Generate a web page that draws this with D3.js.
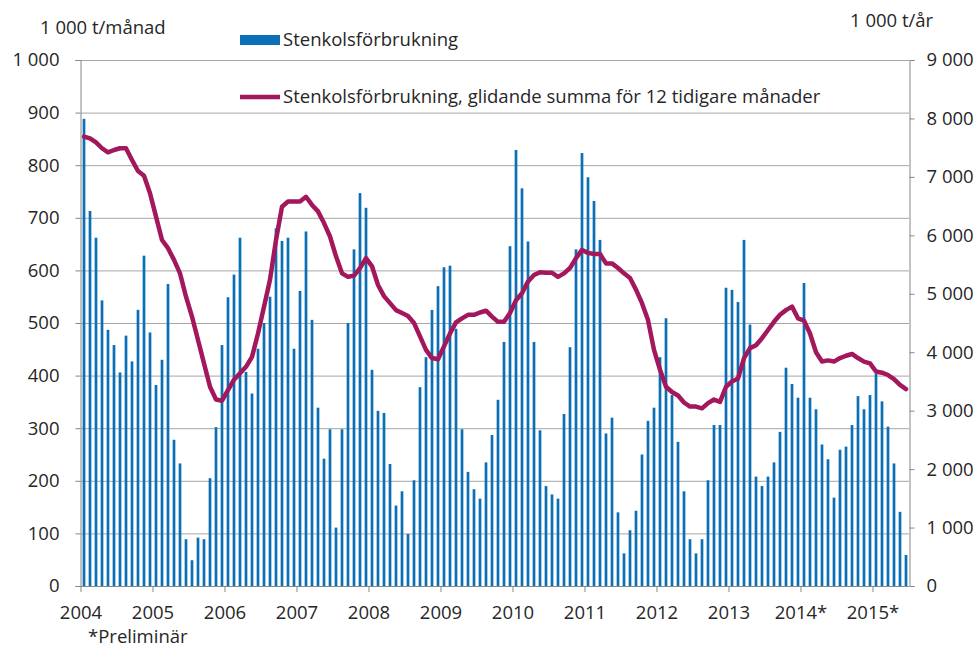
<!DOCTYPE html>
<html>
<head>
<meta charset="utf-8">
<script src="https://cdn.jsdelivr.net/npm/d3@7"></script>
<style>
body { margin: 0; background: #fff; }
text { font-family: "Open Sans", sans-serif; fill: #262626; }
</style>
</head>
<body>
<svg id="chart"></svg>
<script>
//data
var years = ["2004", "2005", "2006", "2007", "2008", "2009", "2010", "2011", "2012", "2013", "2014", "2015"]
var yearLabels = ["2004", "2005", "2006", "2007", "2008", "2009", "2010", "2011", "2012", "2013", "2014*", "2015*"]
var monthNames = ["01", "02", "03", "04", "05", "06", "07", "08", "09", "10", "11", "12"]

// 1 000 t per month, jan 2004 - jun 2015
var forbrukning = [
    888, 713, 662, 543, 487, 458, 406, 476, 427, 525, 628, 482,
    382, 430, 574, 278, 233, 89, 49, 92, 89, 205, 302, 458,
    549, 592, 662, 407, 366, 451, 500, 550, 680, 656, 662, 451,
    561, 674, 506, 339, 242, 298, 111, 298, 500, 640, 747, 719,
    411, 333, 329, 232, 153, 180, 99, 201, 378, 435, 525, 570,
    606, 609, 489, 298, 217, 184, 166, 235, 287, 354, 464, 646,
    829, 756, 655, 464, 296, 190, 174, 166, 327, 454, 640, 823,
    777, 732, 658, 290, 320, 140, 62, 106, 143, 250, 314, 339,
    435, 509, 363, 274, 180, 89, 62, 89, 201, 306, 306, 567,
    563, 540, 658, 497, 208, 190, 208, 235, 293, 415, 384, 358,
    576, 358, 336, 269, 241, 168, 259, 265, 306, 361, 336, 363,
    404, 351, 303, 233, 141, 59
]

// 1 000 t per year, rolling 12 month sum
var glidande = [
    7690, 7660, 7590, 7490, 7420, 7460, 7490, 7490, 7290, 7100, 7020, 6720,
    6320, 5920, 5780, 5580, 5350, 4950, 4610, 4210, 3810, 3410, 3190, 3170,
    3350, 3530, 3640, 3750, 3920, 4320, 4780, 5240, 5920, 6490, 6580, 6580,
    6580, 6660, 6520, 6410, 6210, 5980, 5640, 5350, 5290, 5310, 5440, 5610,
    5470, 5150, 4960, 4840, 4720, 4670, 4620, 4500, 4270, 4040, 3900, 3880,
    4100, 4320, 4510, 4580, 4640, 4640, 4680, 4710, 4610, 4520, 4520, 4670,
    4890, 5010, 5210, 5320, 5370, 5360, 5360, 5290, 5350, 5440, 5610, 5750,
    5700, 5680, 5680, 5520, 5520, 5440, 5350, 5270, 5070, 4840, 4550, 4040,
    3700, 3410, 3320, 3260, 3140, 3070, 3070, 3040, 3130, 3190, 3150, 3410,
    3500, 3550, 3900, 4070, 4120, 4240, 4380, 4520, 4640, 4720, 4780, 4580,
    4540, 4320, 4000, 3840, 3860, 3840, 3900, 3940, 3970, 3900, 3840, 3810,
    3670, 3650, 3610, 3540, 3440, 3370
]

var leftTicks = [0, 100, 200, 300, 400, 500, 600, 700, 800, 900, 1000]
var rightTicks = [0, 1000, 2000, 3000, 4000, 5000, 6000, 7000, 8000, 9000]

//variables
var width = 977, height = 647
var plot = {left: 81, right: 909, top: 60, bottom: 586}
var barColor = "#0b6fb5", lineColor = "#a3175c", gridColor = "#a6a6a6"
var fs = "18.5px"

var months = []
years.forEach(function(yr) {
    monthNames.forEach(function(m) { months.push(yr + "-" + m) })
})
months = months.slice(0, forbrukning.length)

var data = months.map(function(m, i) { return {month: m, bar: forbrukning[i], sum: glidande[i]} })

var sv = d3.formatLocale({decimal: ",", thousands: "\u00a0", grouping: [3], currency: ["", ""]}).format(",d")

var x = d3.scaleBand()
    .domain(months)
    .range([plot.left, plot.right])
    .paddingInner(0.55)
    .paddingOuter(0.275)

var y = d3.scaleLinear()
    .domain([0, 1000])
    .range([plot.bottom, plot.top])

var y2 = d3.scaleLinear()
    .domain([0, 9000])
    .range([plot.bottom, plot.top])

var svg = d3.select("#chart")
    .attr("width", width)
    .attr("height", height)

// gridlines
svg.append("g")
    .selectAll("line")
    .data(leftTicks.slice(1))
    .enter()
    .append("line")
    .attr("x1", plot.left)
    .attr("x2", plot.right)
    .attr("y1", function(d) { return y(d) + 0.5 })
    .attr("y2", function(d) { return y(d) + 0.5 })
    .attr("stroke", gridColor)
    .attr("stroke-width", 1)

// bars
svg.append("g")
    .selectAll("rect")
    .data(data)
    .enter()
    .append("rect")
    .attr("x", function(d) { return x(d.month) })
    .attr("y", function(d) { return y(d.bar) })
    .attr("width", x.bandwidth())
    .attr("height", function(d) { return y(0) - y(d.bar) })
    .attr("fill", barColor)

// line
var line = d3.line()
    .x(function(d) { return x(d.month) + x.bandwidth() / 2 })
    .y(function(d) { return y2(d.sum) })

svg.append("path")
    .datum(data)
    .attr("d", line)
    .attr("fill", "none")
    .attr("stroke", lineColor)
    .attr("stroke-width", 4.5)
    .attr("stroke-linejoin", "round")
    .attr("stroke-linecap", "round")

// left axis
var leftAxis = svg.append("g")
    .attr("transform", "translate(" + (plot.left - 0.5) + ",0)")
    .call(d3.axisLeft(y).tickValues(leftTicks).tickSize(5).tickPadding(16).tickFormat(sv))
leftAxis.selectAll("text").style("font-size", fs)

// right axis
var rightAxis = svg.append("g")
    .attr("transform", "translate(" + (plot.right + 0.5) + ",0)")
    .call(d3.axisRight(y2).tickValues(rightTicks).tickSize(5).tickPadding(12).tickFormat(sv))
rightAxis.selectAll("text").style("font-size", fs)

// bottom axis, ticks at year boundaries
var yearStart = function(yr) { return x(yr + "-01") + x.bandwidth() / 2 - x.step() / 2 }
var bottom = svg.append("g")
bottom.append("line")
    .attr("x1", plot.left)
    .attr("x2", plot.right)
    .attr("y1", plot.bottom + 0.5)
    .attr("y2", plot.bottom + 0.5)
    .attr("stroke", "#868686")
bottom.selectAll(".yt")
    .data(years)
    .enter()
    .append("line")
    .attr("x1", function(d) { return yearStart(d) })
    .attr("x2", function(d) { return yearStart(d) })
    .attr("y1", plot.bottom)
    .attr("y2", plot.bottom + 6)
    .attr("stroke", "#868686")
bottom.selectAll("text")
    .data(years)
    .enter()
    .append("text")
    .attr("x", function(d) { return yearStart(d) })
    .attr("y", 619)
    .attr("text-anchor", "middle")
    .style("font-size", fs)
    .text(function(d, i) { return yearLabels[i] })

svg.selectAll(".domain").attr("stroke", "#868686")
svg.selectAll(".tick line").attr("stroke", "#868686")

// titles and notes
function setText(pos_x, pos_y, font_size, txt, anchor) {
    svg.append("text")
        .attr("x", pos_x)
        .attr("y", pos_y)
        .attr("text-anchor", anchor || "start")
        .style("font-size", font_size)
        .text(txt)
}
setText(40, 34, fs, "1\u00a0000 t/månad")
setText(850, 27, fs, "1\u00a0000 t/år")
setText(88, 643, fs, "*Preliminär")

// legend
svg.append("rect")
    .attr("x", 240)
    .attr("y", 35)
    .attr("width", 40)
    .attr("height", 10)
    .attr("fill", barColor)
setText(283, 46, fs, "Stenkolsförbrukning")

svg.append("line")
    .attr("x1", 240)
    .attr("x2", 280)
    .attr("y1", 97)
    .attr("y2", 97)
    .attr("stroke", lineColor)
    .attr("stroke-width", 4.5)
setText(283, 103, fs, "Stenkolsförbrukning, glidande summa för 12 tidigare månader")
</script>
</body>
</html>
